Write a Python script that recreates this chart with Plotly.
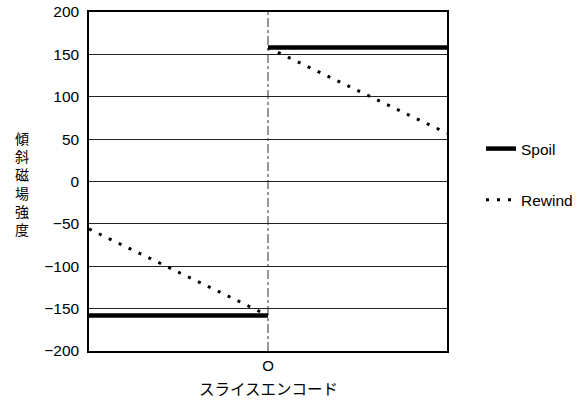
import plotly.graph_objects as go

# Data
spoil_x = [-1, 0, None, 0, 1]
spoil_y = [-158, -158, None, 158, 158]
rewind_x = [-1, 0, None, 0, 1]
rewind_y = [-56, -158, None, 158, 57]
y_ticks = [-200, -150, -100, -50, 0, 50, 100, 150, 200]
x_tick_vals = [0]
x_tick_text = ["O"]
y_title = "傾<br>斜<br>磁<br>場<br>強<br>度"
x_title = "スライスエンコード"

FONT = "Liberation Sans, Arial, sans-serif"
CJK = "Noto Sans CJK JP"

# plot area in page pixels
PL, PR, PT, PB = 89, 447, 12, 351
W, H = 587, 403
L, T = PL, PT
PW, PH = PR - PL, PB - PT
R, B = W - L - PW, H - T - PH

def px_x(x):
    return (x - PL) / PW

def px_y(y):
    return 1 - (y - PT) / PH

fig = go.Figure()
fig.add_trace(go.Scatter(x=spoil_x, y=spoil_y, mode="lines", name="Spoil",
                         legendgroup="a",
                         line=dict(color="black", width=4.5), cliponaxis=False))
fig.add_trace(go.Scatter(x=rewind_x, y=rewind_y, mode="lines", name="Rewind",
                         legendgroup="b",
                         line=dict(color="black", width=3, dash="3px,8px"), cliponaxis=False))

fig.add_shape(type="line", x0=0, x1=0, y0=-200, y1=200, xref="x", yref="y",
              line=dict(color="#333", width=1, dash="dashdot"), layer="below")

fig.update_layout(
    width=W, height=H,
    margin=dict(l=L, r=R, t=T, b=B, autoexpand=False),
    paper_bgcolor="white", plot_bgcolor="white",
    font=dict(family=FONT, size=15, color="black"),
    showlegend=True,
    legend=dict(x=px_x(481), y=px_y(132), xanchor="left", yanchor="top",
                tracegroupgap=28, font=dict(size=15.5),
                bgcolor="rgba(0,0,0,0)"),
    xaxis=dict(range=[-1, 1], tickvals=x_tick_vals, ticktext=x_tick_text,
               showgrid=False, zeroline=False, showline=True, linecolor="black",
               linewidth=1.5, mirror=True, ticks="", tickfont=dict(size=15),
               automargin=False),
    yaxis=dict(range=[-200, 200], tickvals=y_ticks, showgrid=True,
               gridcolor="#222", gridwidth=1, zeroline=False,
               showline=True, linecolor="black", linewidth=1.5, mirror=True,
               ticks="", ticklabelstandoff=5, tickfont=dict(size=15.5),
               ticklabeloverflow="allow", automargin=False),
)

fig.add_annotation(text=y_title, xref="paper", yref="paper",
                   x=px_x(21.5), y=px_y(183), xanchor="center", yanchor="middle",
                   showarrow=False,
                   font=dict(family=CJK, size=14, color="black"))
fig.add_annotation(text=x_title, xref="paper", yref="paper",
                   x=px_x(268), y=px_y(388), xanchor="center", yanchor="middle",
                   showarrow=False,
                   font=dict(family=CJK, size=15.5, color="black"))

fig.write_html("out.html",
               config={"displayModeBar": False},
               post_script="document.body.style.margin='0';document.body.style.overflow='hidden';")
